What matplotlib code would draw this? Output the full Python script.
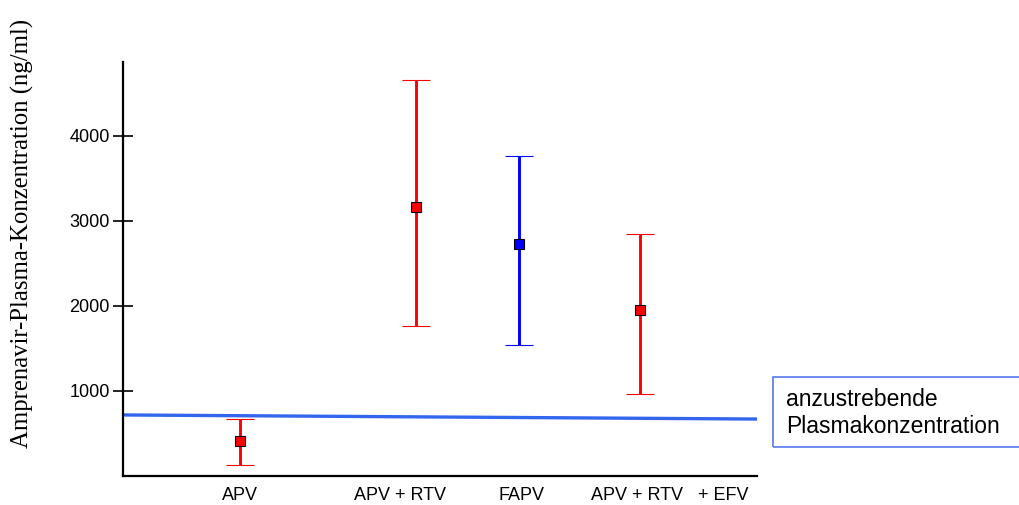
import matplotlib
matplotlib.use("Agg")
import matplotlib.pyplot as plt
from matplotlib.patches import Rectangle

# data
groups = ["APV", "APV + RTV", "FAPV", "APV + RTV   + EFV"]
means = [412, 3165, 2730, 1953]
upper = [670, 4660, 3765, 2847]
lower = [130, 1765, 1540, 965]
colors = ["#ff0000", "#ff0000", "#0000ff", "#ff0000"]
target_line = [718, 670]   # value at left / right end of the axis

xpos = [1.85, 4.62, 6.25, 8.15]
label_pos = [1.85, 4.37, 6.28, 8.62]

fig = plt.figure(figsize=(10.2, 5.05), dpi=100)
ax = fig.add_axes([0.1206, 0.0574, 0.6216, 0.8200])

for x, m, u, l, c in zip(xpos, means, upper, lower, colors):
    ax.errorbar(x, m, yerr=[[m - l], [u - m]], fmt="s", color=c, ecolor=c,
                mfc=c, mec="black", mew=0.8, ms=7, elinewidth=2.1,
                capsize=10, capthick=2.6, zorder=3)

ax.plot([0, 10], target_line, color="#3366ee", lw=2.4, zorder=2)

ax.set_xlim(0, 10)
ax.set_ylim(0, 4870)
ax.set_yticks([1000, 2000, 3000, 4000])
ax.set_yticklabels(["1000", "2000", "3000", "4000"], fontsize=13,
                   family="Liberation Sans")
ax.set_xticks(label_pos)
ax.set_xticklabels(groups, fontsize=13, family="Liberation Sans")
ax.tick_params(axis="x", length=0, pad=8)
ax.tick_params(axis="y", direction="inout", length=14, width=1.2, pad=2.5)

for s in ["top", "right"]:
    ax.spines[s].set_visible(False)
for s in ["left", "bottom"]:
    ax.spines[s].set_linewidth(1.6)

ax.set_ylabel("Amprenavir-Plasma-Konzentration (ng/ml)", family="Liberation Serif",
              fontsize=17.8)
ax.yaxis.set_label_coords(-0.14, 0.585)

# box with the reference-line note
fig.patches.append(Rectangle((773 / 1020, 1 - 447 / 505), 260 / 1020, 70 / 505,
                             transform=fig.transFigure, fill=False,
                             edgecolor="#5577ee", lw=1.2))
fig.text(786 / 1020, 1 - 413 / 505, "anzustrebende\nPlasmakonzentration",
         family="Liberation Sans", fontsize=16.5, va="center", ha="left",
         linespacing=1.2)

fig.savefig("out.png", dpi=100)
